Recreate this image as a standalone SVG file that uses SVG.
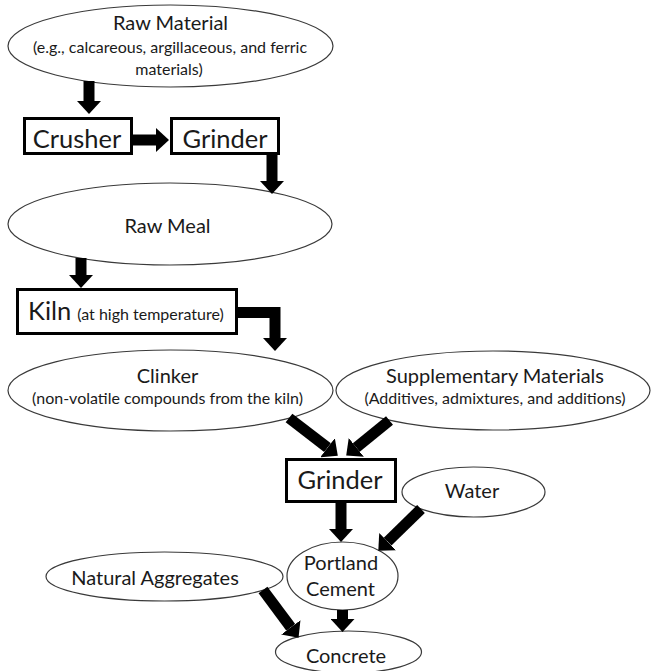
<svg xmlns="http://www.w3.org/2000/svg" width="651" height="671" viewBox="0 0 651 671">
<style>
  .ell { fill: #ffffff; stroke: #3a3a3a; stroke-width: 1.2; }
  .box { fill: #ffffff; stroke: #000000; stroke-width: 3; }
  text { font-family: Lato, "Liberation Sans", Arial, sans-serif; fill: #1a1a1a; text-anchor: middle; }
  .lg { font-size: 20px; }
  .sm { font-size: 16px; }
  .bx { font-size: 25.5px; }
  .arr { fill: none; stroke: #000000; stroke-width: 11; stroke-linecap: butt; stroke-linejoin: miter; marker-end: url(#head); }
</style>
<defs>
  <marker id="head" markerUnits="userSpaceOnUse" viewBox="0 0 13 24" markerWidth="13" markerHeight="24" refX="0" refY="12" orient="auto">
    <path d="M0,0 L13,12 L0,24 Z" fill="#000000"/>
  </marker>
</defs>
<rect width="651" height="671" fill="#ffffff"/>

<g id="raw-material">
  <ellipse class="ell" cx="170.5" cy="46" rx="162.5" ry="41"/>
  <text class="lg" x="170.5" y="30">Raw Material</text>
  <text class="sm" x="170" y="53">(e.g., calcareous, argillaceous, and ferric</text>
  <text class="sm" x="169" y="75">materials)</text>
</g>
<g id="crusher">
  <rect class="box" x="24.5" y="118.5" width="107" height="35"/>
  <text class="bx" x="77" y="148">Crusher</text>
</g>
<g id="grinder1">
  <rect class="box" x="171.5" y="118.5" width="107" height="35"/>
  <text class="bx" x="225" y="148">Grinder</text>
</g>
<g id="raw-meal">
  <ellipse class="ell" cx="170" cy="224" rx="162" ry="41"/>
  <text class="lg" x="167.5" y="233">Raw Meal</text>
</g>
<g id="kiln">
  <rect class="box" x="17.5" y="289.5" width="219" height="44"/>
  <text x="28" y="320" style="text-anchor:start"><tspan class="bx">Kiln</tspan><tspan class="sm" dx="6">(at high temperature)</tspan></text>
</g>
<g id="clinker">
  <ellipse class="ell" cx="170.5" cy="390.5" rx="162.5" ry="40.5"/>
  <text class="lg" x="167.5" y="383">Clinker</text>
  <text class="sm" x="167.5" y="404">(non-volatile compounds from the kiln)</text>
</g>
<g id="supplementary">
  <ellipse class="ell" cx="493" cy="390.5" rx="157" ry="39.5"/>
  <text class="lg" x="495" y="383">Supplementary Materials</text>
  <text class="sm" x="495" y="404">(Additives, admixtures, and additions)</text>
</g>
<g id="grinder2">
  <rect class="box" x="286.5" y="459.5" width="109" height="42"/>
  <text class="bx" x="340" y="489">Grinder</text>
</g>
<g id="water">
  <ellipse class="ell" cx="473.5" cy="492" rx="71.5" ry="25"/>
  <text class="lg" x="472" y="498">Water</text>
</g>
<g id="portland-cement">
  <ellipse class="ell" cx="342.5" cy="576" rx="55.5" ry="34"/>
  <text class="lg" x="341" y="570">Portland</text>
  <text class="lg" x="340.5" y="596">Cement</text>
</g>
<g id="natural-aggregates">
  <ellipse class="ell" cx="164.5" cy="576.5" rx="118.5" ry="24.5"/>
  <text class="lg" x="155" y="585">Natural Aggregates</text>
</g>
<g id="concrete">
  <ellipse class="ell" cx="348.5" cy="652" rx="73" ry="21"/>
  <text class="lg" x="346" y="663">Concrete</text>
</g>

<g id="connectors">
  <path class="arr" d="M89,81 L89,101"/>
  <path class="arr" d="M133,140 L156,140"/>
  <path class="arr" d="M272,155 L272,181"/>
  <path class="arr" d="M81,258 L81,275"/>
  <path class="arr" d="M238,312.5 L275,312.5 L275,338"/>
  <path class="arr" d="M289,418 L327.5,447.7"/>
  <path class="arr" d="M389.5,420.5 L356.3,447.4"/>
  <path class="arr" d="M341,503 L341,529"/>
  <path class="arr" d="M421,509 L387.6,541.6"/>
  <path class="arr" d="M342.5,610 L342.5,619"/>
  <path class="arr" d="M263,590 L290.8,627.4"/>
</g>
</svg>
